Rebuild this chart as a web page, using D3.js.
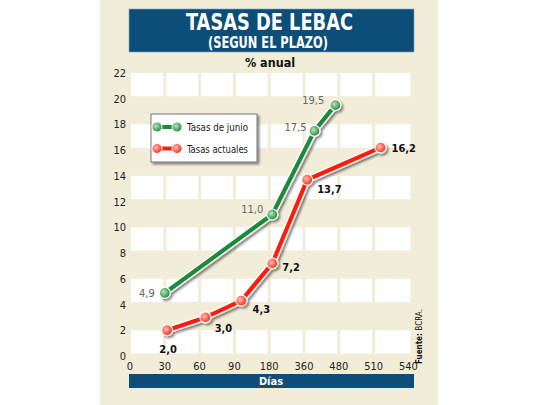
<html>
<head>
<meta charset="utf-8">
<script src="https://d3js.org/d3.v7.min.js"></script>
<style>
  body { margin: 0; background: #ffffff; }
  svg { display: block; }
  text { font-family: "DejaVu Sans Condensed", "DejaVu Sans", sans-serif; }
</style>
</head>
<body>
<svg id="chart"></svg>
<script>
// x axis tick labels (days), equally spaced on the axis
var dayTicks = [0, 30, 60, 90, 180, 360, 480, 510, 540];
var yTicks = [0, 2, 4, 6, 8, 10, 12, 14, 16, 18, 20, 22];

// Tasas de junio
var junioDays = [30, 196, 396, 468];
var junioRates = [4.9, 11.0, 17.5, 19.5];
var junioLabels = ["4,9", "11,0", "17,5", "19,5"];

// Tasas actuales
var actualDays = [32, 65, 108, 196, 371, 516];
var actualRates = [2.0, 3.0, 4.3, 7.2, 13.7, 16.2];
var actualLabels = ["2,0", "3,0", "4,3", "7,2", "13,7", "16,2"];

// label placement relative to each point [dx, dy, anchor]
var junioOffsets = [[-10, 4, "end"], [-9, -2, "end"], [-8, 0, "end"], [-11, -1, "end"]];
var actualOffsets = [[1, 23, "middle"], [18, 15, "middle"], [20, 12, "middle"], [10, 8, "start"], [10, 13, "start"], [11, 4, "start"]];

var W = 540, H = 405;
var svg = d3.select("#chart").attr("width", W).attr("height", H);

var defs = svg.append("defs");
var sh = defs.append("filter").attr("id", "shadow")
  .attr("x", "-20%").attr("y", "-20%").attr("width", "140%").attr("height", "140%");
sh.append("feDropShadow").attr("dx", 2).attr("dy", 2).attr("stdDeviation", 1.2)
  .attr("flood-color", "#000").attr("flood-opacity", 0.45);

function grad(id, light, dark) {
  var g = defs.append("radialGradient").attr("id", id)
    .attr("cx", "40%").attr("cy", "40%").attr("r", "60%");
  g.append("stop").attr("offset", "0%").attr("stop-color", light);
  g.append("stop").attr("offset", "100%").attr("stop-color", dark);
}
grad("gGreen", "#b8e6b8", "#1f8a3c");
grad("gRed", "#ffc0b0", "#ff2a14");

// beige panel
svg.append("rect").attr("x", 100).attr("y", 0).attr("width", 338).attr("height", H)
  .attr("fill", "#f2edd9");

// title box
svg.append("rect").attr("x", 129).attr("y", 9).attr("width", 285).attr("height", 43)
  .attr("fill", "#0c4e78").attr("stroke", "#7fa6bf").attr("stroke-width", 0.6);
svg.append("text").attr("x", 186).attr("y", 30)
  .attr("textLength", 167).attr("lengthAdjust", "spacingAndGlyphs")
  .attr("fill", "#fff").style("font-size", "23px").style("font-weight", "bold")
  .text("TASAS DE LEBAC");
svg.append("text").attr("x", 208).attr("y", 48)
  .attr("textLength", 120).attr("lengthAdjust", "spacingAndGlyphs")
  .attr("fill", "#fff").style("font-size", "15px").style("font-weight", "bold")
  .text("(SEGUN EL PLAZO)");
svg.append("text").attr("x", 270).attr("y", 67).attr("text-anchor", "middle")
  .attr("fill", "#111").style("font-size", "12.5px").style("font-weight", "bold")
  .text("% anual");

// scales
var x = d3.scaleLinear().domain(dayTicks)
  .range(dayTicks.map(function(d, i) { return 130 + i * 34.8; }));
var y = d3.scaleLinear().domain([0, 22]).range([356, 73]);

// grid cells: white bands between 0-2, 4-6, ... with gaps at each tick
for (var b = 0; b < 22; b += 4) {
  for (var i = 0; i < dayTicks.length - 1; i++) {
    var x0 = x(dayTicks[i]) + (i === 0 ? 1 : 1.6);
    var x1 = x(dayTicks[i + 1]) - (i === dayTicks.length - 2 ? -2 : 1.6);
    svg.append("rect")
      .attr("x", x0).attr("y", y(b + 2))
      .attr("width", x1 - x0).attr("height", y(b) - y(b + 2) - 2.5)
      .attr("fill", "#ffffff");
  }
}

// y axis labels
svg.append("g").selectAll("text").data(yTicks).join("text")
  .attr("x", 126).attr("y", function(d) { return y(d) + 4; })
  .attr("text-anchor", "end").attr("fill", "#222").style("font-size", "11px")
  .text(function(d) { return d; });

// x axis labels
svg.append("g").selectAll("text").data(dayTicks).join("text")
  .attr("x", function(d) { return x(d); }).attr("y", 370)
  .attr("text-anchor", "middle").attr("fill", "#222").style("font-size", "11px")
  .text(function(d) { return d; });

// Días bar
svg.append("rect").attr("x", 129).attr("y", 374).attr("width", 285).attr("height", 14)
  .attr("fill", "#0c4e78");
svg.append("text").attr("x", 271).attr("y", 385).attr("text-anchor", "middle")
  .attr("fill", "#fff").style("font-size", "11px").style("font-weight", "bold")
  .text("Días");

// source
var src = svg.append("text").attr("transform", "translate(422,364) rotate(-90)")
  .attr("fill", "#111").style("font-size", "8px");
src.append("tspan").style("font-weight", "bold").text("Fuente: ");
src.append("tspan").text("BCRA.");

var line = d3.line()
  .x(function(d) { return x(d[0]); })
  .y(function(d) { return y(d[1]); });

function series(days, rates, labels, offs, color, gradId, labelColor, labelWeight) {
  var pts = days.map(function(d, i) { return [d, rates[i]]; });
  var g = svg.append("g").attr("filter", "url(#shadow)");
  g.append("path").datum(pts).attr("d", line).attr("fill", "none")
    .attr("stroke", "#ffffff").attr("stroke-width", 7).attr("stroke-linejoin", "round");
  g.append("path").datum(pts).attr("d", line).attr("fill", "none")
    .attr("stroke", color).attr("stroke-width", 4.2).attr("stroke-linejoin", "round");
  g.selectAll("circle").data(pts).join("circle")
    .attr("cx", function(d) { return x(d[0]); })
    .attr("cy", function(d) { return y(d[1]); })
    .attr("r", 5.5).attr("fill", "url(#" + gradId + ")")
    .attr("stroke", "#ffffff").attr("stroke-width", 1.2);
  svg.append("g").selectAll("text").data(pts).join("text")
    .attr("x", function(d, i) { return x(d[0]) + offs[i][0]; })
    .attr("y", function(d, i) { return y(d[1]) + offs[i][1]; })
    .attr("text-anchor", function(d, i) { return offs[i][2]; })
    .attr("fill", labelColor).style("font-size", "11px").style("font-weight", labelWeight)
    .text(function(d, i) { return labels[i]; });
}

series(junioDays, junioRates, junioLabels, junioOffsets, "#1e8a3a", "gGreen", "#666", "normal");
series(actualDays, actualRates, actualLabels, actualOffsets, "#ff1e0e", "gRed", "#111", "bold");

// legend
svg.append("rect").attr("x", 151).attr("y", 114).attr("width", 106).attr("height", 48)
  .attr("fill", "#ffffff").attr("stroke", "#777").attr("stroke-width", 1)
  .attr("filter", "url(#shadow)");
var legend = [["Tasas de junio", "#1e8a3a", "gGreen"], ["Tasas actuales", "#ff1e0e", "gRed"]];
legend.forEach(function(l, i) {
  var ly = 127 + i * 21.5;
  svg.append("line").attr("x1", 157).attr("x2", 177).attr("y1", ly).attr("y2", ly)
    .attr("stroke", l[1]).attr("stroke-width", 4);
  [157, 177].forEach(function(cx) {
    svg.append("circle").attr("cx", cx).attr("cy", ly).attr("r", 5)
      .attr("fill", "url(#" + l[2] + ")").attr("stroke", "#fff").attr("stroke-width", 1);
  });
  svg.append("text").attr("x", 187).attr("y", ly + 4).attr("fill", "#222")
    .attr("textLength", 61).attr("lengthAdjust", "spacingAndGlyphs")
    .style("font-size", "11px").text(l[0]);
});
</script>
</body>
</html>
